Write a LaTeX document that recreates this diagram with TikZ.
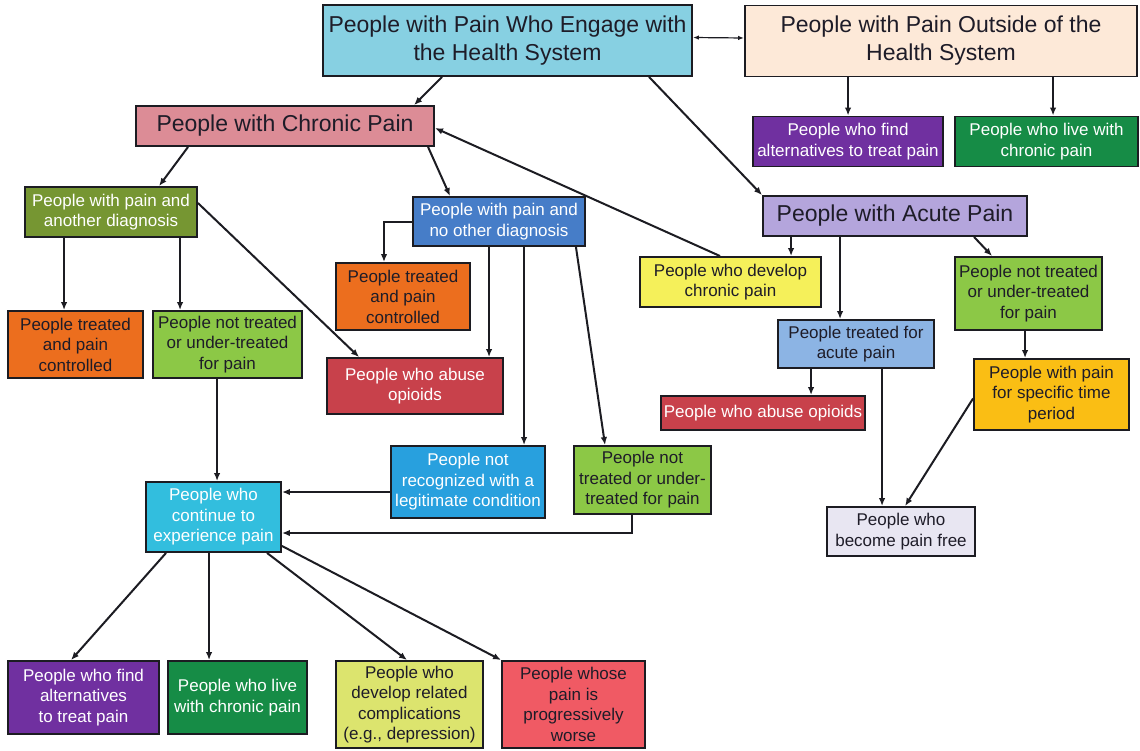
\documentclass[tikz,border=0pt]{standalone}
\usepackage{fontspec}
\setmainfont{Liberation Sans}
\usepackage{xcolor}
\usetikzlibrary{arrows.meta}
\definecolor{boxline}{RGB}{28, 28, 34}
\definecolor{inkdark}{RGB}{30, 28, 40}
\definecolor{engagecyan}{RGB}{135, 208, 226}
\definecolor{outsidepeach}{RGB}{253, 233, 216}
\definecolor{chronicrose}{RGB}{220, 140, 150}
\definecolor{altpurple}{RGB}{112, 48, 160}
\definecolor{livegreen}{RGB}{22, 140, 70}
\definecolor{acutelilac}{RGB}{180, 165, 220}
\definecolor{olivegreen}{RGB}{118, 150, 50}
\definecolor{diagblue}{RGB}{70, 125, 200}
\definecolor{treatorange}{RGB}{236, 110, 30}
\definecolor{undergreen}{RGB}{140, 200, 70}
\definecolor{abusered}{RGB}{200, 65, 75}
\definecolor{developyellow}{RGB}{245, 240, 90}
\definecolor{acuteblue}{RGB}{140, 180, 228}
\definecolor{timegold}{RGB}{250, 190, 20}
\definecolor{recogblue}{RGB}{40, 160, 222}
\definecolor{freelilac}{RGB}{232, 230, 242}
\definecolor{continuecyan}{RGB}{50, 190, 222}
\definecolor{complyellow}{RGB}{220, 228, 110}
\definecolor{worsered}{RGB}{240, 90, 100}

\begin{document}
\begin{tikzpicture}[x=1pt, y=-1pt,
    box/.style={rectangle, draw=boxline, line width=1.9pt, inner sep=0pt, align=center, text=inkdark, font=\fontsize{17}{20.5}\selectfont},
    title/.style={box, font=\fontsize{23}{28}\selectfont},
    light/.style={text=white},
    dims/.style 2 args={minimum width=#1pt, minimum height=#2pt},
    arr/.style={-{Latex[length=8pt,width=6.5pt]}, line width=2pt, color=boxline}
]
    \useasboundingbox (0,0) rectangle (1140,750);

    % top level
    \node[title, fill=engagecyan, dims={369}{71}] (engage) at (507.5, 40.5) {People with Pain Who Engage with\\the Health System};
    \node[title, fill=outsidepeach, dims={392}{71}] (outside) at (941, 41) {People with Pain Outside of the\\Health System};
    \node[title, fill=chronicrose, dims={298}{40}] (chronic) at (285, 126) {People with Chronic Pain};
    \node[box, light, fill=altpurple, dims={190}{50}] (topalt) at (848, 141.5) {People who find\\alternatives to treat pain};
    \node[box, light, fill=livegreen, dims={183}{50}] (toplive) at (1046.5, 141.5) {People who live with\\chronic pain};
    \node[title, fill=acutelilac, dims={264}{40}] (acute) at (895, 216) {People with Acute Pain};

    % chronic branch
    \node[box, light, fill=olivegreen, dims={172}{50}] (anotherdiag) at (111, 212) {People with pain and\\another diagnosis};
    \node[box, light, fill=diagblue, dims={172}{49}] (nootherdiag) at (499, 221.5) {People with pain and\\no other diagnosis};
    \node[box, fill=treatorange, dims={134}{67}] (treatedmid) at (403, 296.5) {People treated\\and pain\\controlled};
    \node[box, fill=treatorange, dims={135}{67}] (treatedleft) at (75.5, 344.5) {People treated\\and pain\\controlled};
    \node[box, fill=undergreen, dims={149}{67}] (nottreatedleft) at (227.5, 344.5) {People not treated\\or under-treated\\for pain};
    \node[box, light, fill=abusered, dims={176}{56}] (abusemid) at (415, 386) {People who abuse\\opioids};
    \node[box, light, fill=recogblue, dims={154}{72}] (notrecog) at (468, 482) {People not\\recognized with a\\legitimate condition};
    \node[box, fill=undergreen, dims={137}{68}] (nottreatedmid) at (642.5, 480) {People not\\treated or under-\\treated for pain};
    \node[box, light, fill=continuecyan, dims={135}{70}] (continuepain) at (213.5, 517) {People who\\continue to\\experience pain};

    % acute branch
    \node[box, fill=developyellow, dims={181}{50}] (developchronic) at (730.5, 282) {People who develop\\chronic pain};
    \node[box, fill=undergreen, dims={147}{73}] (nottreatedacute) at (1028.5, 293.5) {People not treated\\or under-treated\\for pain};
    \node[box, fill=acuteblue, dims={156}{48}] (treatedacute) at (856, 344) {People treated for\\acute pain};
    \node[box, light, fill=abusered, dims={204}{34}] (abuseright) at (763, 413) {People who abuse opioids};
    \node[box, fill=timegold, dims={155}{71}] (specifictime) at (1051.5, 394.5) {People with pain\\for specific time\\period};
    \node[box, fill=freelilac, dims={148}{49}] (painfree) at (901, 531.5) {People who\\become pain free};

    % outcomes
    \node[box, light, fill=altpurple, dims={151}{73}] (bottomalt) at (83.5, 697.5) {People who find\\alternatives\\to treat pain};
    \node[box, light, fill=livegreen, dims={139}{73}] (bottomlive) at (237.5, 697.5) {People who live\\with chronic pain};
    \node[box, fill=complyellow, dims={147}{87}] (complications) at (409.5, 704.5) {People who\\develop related\\complications\\(e.g., depression)};
    \node[box, fill=worsered, dims={143}{87}] (worse) at (573.5, 704.5) {People whose\\pain is\\progressively\\worse};

    % connectors
    \draw[arr, line width=1.2pt, {Latex[length=6pt,width=4.5pt]}-{Latex[length=6pt,width=4.5pt]}] ([yshift=3pt]engage.east) -- ([yshift=3pt]outside.west);
    \draw[arr] ([xshift=120pt]engage.south west) -- ([xshift=279pt]chronic.north west);
    \draw[arr] ([xshift=327pt]engage.south west) -- (acute.north west);
    \draw[arr] ([xshift=104pt]outside.south west) -- ([xshift=96pt]topalt.north west);
    \draw[arr] ([xshift=309pt]outside.south west) -- ([xshift=99pt]toplive.north west);

    \draw[arr] ([xshift=53pt]chronic.south west) -- ([xshift=135pt]anotherdiag.north west);
    \draw[arr] ([xshift=293pt]chronic.south west) -- ([xshift=38pt]nootherdiag.north west);
    \draw[arr] ([xshift=81pt]developchronic.north west) -- ([yshift=-2pt]chronic.east);

    \draw[arr] ([xshift=40pt]anotherdiag.south west) -- ([xshift=57pt]treatedleft.north west);
    \draw[arr] ([xshift=156pt]anotherdiag.south west) -- ([xshift=28pt]nottreatedleft.north west);
    \draw[arr] ([yshift=-17pt]anotherdiag.north east) -- ([xshift=33pt]abusemid.north west);

    \draw[arr] (nootherdiag.west) -| ([xshift=-19pt]treatedmid.north);
    \draw[arr] ([xshift=77pt]nootherdiag.south west) -- ([xshift=163pt]abusemid.north west);
    \draw[arr] ([xshift=112pt]nootherdiag.south west) -- ([xshift=134pt]notrecog.north west);
    \draw[arr] ([xshift=-10pt]nootherdiag.south east) -- ([xshift=32pt]nottreatedmid.north west);

    \draw[arr] ([xshift=65pt]nottreatedleft.south west) -- ([xshift=72pt]continuepain.north west);
    \draw[arr] ([yshift=-10pt]notrecog.west) -- ([yshift=25pt]continuepain.east);
    \draw[arr] ([xshift=59pt]nottreatedmid.south west) |- ([yshift=-16pt]continuepain.east);

    \draw[arr] ([xshift=29pt]acute.south west) -- ([xshift=152pt]developchronic.north west);
    \draw[arr] ([xshift=78pt]acute.south west) -- ([xshift=63pt]treatedacute.north west);
    \draw[arr] ([xshift=212pt]acute.south west) -- ([xshift=38pt]nottreatedacute.north west);
    \draw[arr] ([xshift=34pt]treatedacute.south west) -- ([xshift=151pt]abuseright.north west);
    \draw[arr] ([xshift=105pt]treatedacute.south west) -- ([xshift=56pt]painfree.north west);
    \draw[arr] ([xshift=71pt]nottreatedacute.south west) -- ([xshift=52pt]specifictime.north west);
    \draw[arr] ([yshift=-4pt]specifictime.west) -- ([xshift=79pt]painfree.north west);

    \draw[arr] ([xshift=21pt]continuepain.south west) -- ([xshift=64pt]bottomalt.north west);
    \draw[arr] ([xshift=64pt]continuepain.south west) -- ([xshift=42pt]bottomlive.north west);
    \draw[arr] ([xshift=122pt]continuepain.south west) -- ([xshift=72pt]complications.north west);
    \draw[arr] ([yshift=7pt]continuepain.south east) -- (worse.north west);
\end{tikzpicture}
\end{document}
